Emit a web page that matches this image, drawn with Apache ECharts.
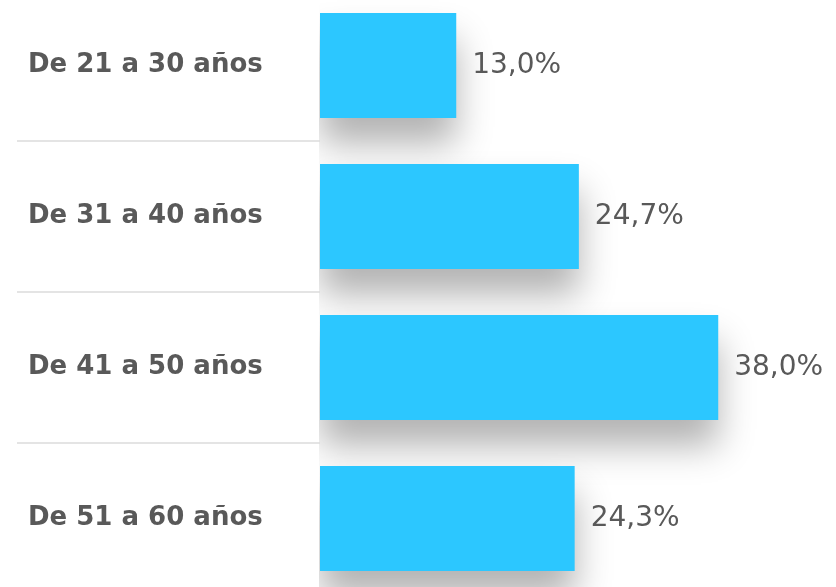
<!DOCTYPE html>
<html lang="es">

<head>
    <meta charset="UTF-8">
    <title>Edad</title>
    <script src="https://cdn.jsdelivr.net/npm/echarts@6/dist/echarts.min.js"></script>
    <style>
        html, body { margin: 0; padding: 0; background: #fff; }
    </style>
</head>

<body>
    <div id="main" style="width: 836px; height: 587px;"></div>
    <script>
    const categories = ['De 21 a 30 años', 'De 31 a 40 años', 'De 41 a 50 años', 'De 51 a 60 años']
    const values = [13.0, 24.7, 38.0, 24.3]

    const myChart = echarts.init(document.getElementById('main'))
    const option = {
        backgroundColor: '#fff',
        animation: false,
        // tapa la sombra que sale a la izquierda del eje
        graphic: [{
            type: 'rect',
            left: 0,
            top: 0,
            z: 3,
            shape: { width: 319, height: 587 },
            style: { fill: '#fff' }
        }],
        grid: {
            left: 320,
            top: -10,
            width: 524,
            height: 604,
            outerBoundsMode: 'none'
        },
        xAxis: {
            type: 'value',
            min: 0,
            max: 50,
            show: false
        },
        yAxis: {
            type: 'category',
            data: categories,
            inverse: true,
            z: 5,
            axisLine: { show: false },
            axisTick: {
                show: true,
                interval: 0,
                length: 303,
                lineStyle: { color: '#dcdcdc', width: 1.5 }
            },
            axisLabel: {
                align: 'left',
                margin: 292,
                color: '#595959',
                fontFamily: 'DejaVu Sans',
                fontWeight: 'bold',
                fontSize: 26
            }
        },
        series: [{
            type: 'bar',
            data: values,
            barWidth: 105,
            itemStyle: {
                color: '#2cc7ff',
                shadowColor: 'rgba(0,0,0,0.3)',
                shadowBlur: 34,
                shadowOffsetY: 26
            },
            label: {
                show: true,
                position: 'right',
                distance: 16,
                color: '#595959',
                fontFamily: 'DejaVu Sans',
                fontSize: 28,
                formatter: function (p) {
                    return p.value.toFixed(1).replace('.', ',') + '%'
                }
            }
        }]
    }
    myChart.setOption(option)
    </script>
</body>

</html>
